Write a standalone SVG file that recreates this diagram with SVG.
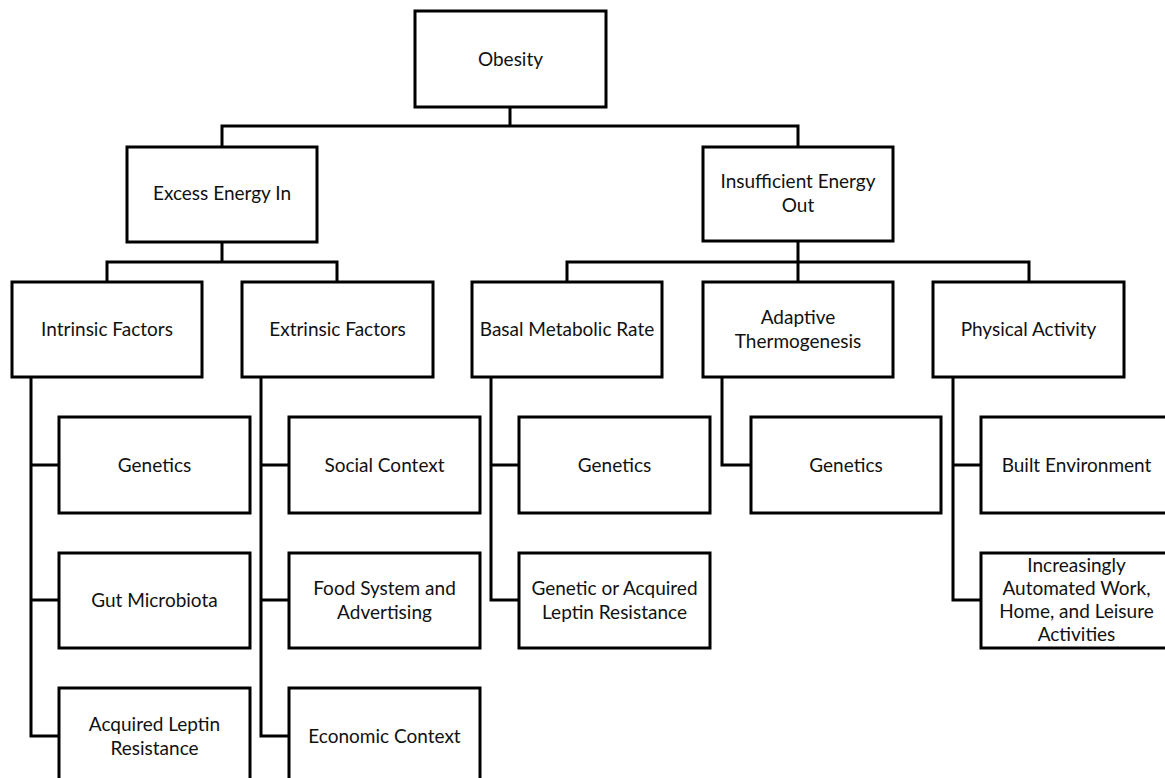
<svg xmlns="http://www.w3.org/2000/svg" width="1165" height="778" viewBox="0 0 1165 778">
<style>
.box{fill:#fff;stroke:#000;stroke-width:3}
.lbl{font-family:Lato,"Liberation Sans",sans-serif;font-size:19px;fill:#111;text-anchor:middle}
.con{fill:none;stroke:#000;stroke-width:3;stroke-linejoin:miter;stroke-linecap:square}
</style>
<rect width="1165" height="778" fill="#fff"/>
<g id="connectors">
<path class="con" d="M510,107V126M222,147V126H798V147"/>
<path class="con" d="M222,242V262M107,282V262H337V282"/>
<path class="con" d="M798,241V282M567,282V262H1029V282"/>
<path class="con" d="M31,377V736H59M31,465H59M31,600H59"/>
<path class="con" d="M261,377V736H289M261,465H289M261,600H289"/>
<path class="con" d="M491,377V600H519M491,465H519"/>
<path class="con" d="M722,377V465H751"/>
<path class="con" d="M953,377V600H981M953,465H981"/>
</g>
<g id="obesity"><rect class="box" x="415" y="11" width="191" height="96"/><text class="lbl" x="510.5" y="66">Obesity</text></g>
<g id="excess"><rect class="box" x="127" y="147" width="190" height="95"/><text class="lbl" x="222" y="200">Excess Energy In</text></g>
<g id="insufficient"><rect class="box" x="703" y="147" width="190" height="94"/><text class="lbl" x="798" y="188">Insufficient Energy<tspan x="798" dy="24">Out</tspan></text></g>
<g id="intrinsic"><rect class="box" x="12" y="282" width="190" height="95"/><text class="lbl" x="107" y="336">Intrinsic Factors</text></g>
<g id="extrinsic"><rect class="box" x="242" y="282" width="191" height="95"/><text class="lbl" x="337.5" y="336">Extrinsic Factors</text></g>
<g id="basal"><rect class="box" x="472" y="282" width="190" height="95"/><text class="lbl" x="567" y="336">Basal Metabolic Rate</text></g>
<g id="adaptive"><rect class="box" x="703" y="282" width="190" height="95"/><text class="lbl" x="798" y="324">Adaptive<tspan x="798" dy="24">Thermogenesis</tspan></text></g>
<g id="physical"><rect class="box" x="933" y="282" width="191" height="95"/><text class="lbl" x="1028.5" y="336">Physical Activity</text></g>
<g id="intr-genetics"><rect class="box" x="59" y="417" width="191" height="96"/><text class="lbl" x="154.5" y="472">Genetics</text></g>
<g id="gut"><rect class="box" x="59" y="553" width="191" height="95"/><text class="lbl" x="154.5" y="607">Gut Microbiota</text></g>
<g id="acq-leptin"><rect class="box" x="59" y="688" width="191" height="96"/><text class="lbl" x="154.5" y="731">Acquired Leptin<tspan x="154.5" dy="24">Resistance</tspan></text></g>
<g id="social"><rect class="box" x="289" y="417" width="191" height="96"/><text class="lbl" x="384.5" y="472">Social Context</text></g>
<g id="food"><rect class="box" x="289" y="553" width="191" height="95"/><text class="lbl" x="384.5" y="595">Food System and<tspan x="384.5" dy="24">Advertising</tspan></text></g>
<g id="economic"><rect class="box" x="289" y="688" width="191" height="96"/><text class="lbl" x="384.5" y="743">Economic Context</text></g>
<g id="bmr-genetics"><rect class="box" x="519" y="417" width="191" height="96"/><text class="lbl" x="614.5" y="472">Genetics</text></g>
<g id="bmr-leptin"><rect class="box" x="519" y="553" width="191" height="95"/><text class="lbl" x="614.5" y="595">Genetic or Acquired<tspan x="614.5" dy="24">Leptin Resistance</tspan></text></g>
<g id="at-genetics"><rect class="box" x="751" y="417" width="190" height="96"/><text class="lbl" x="846" y="472">Genetics</text></g>
<g id="built"><rect class="box" x="981" y="417" width="191" height="96"/><text class="lbl" x="1076.5" y="472">Built Environment</text></g>
<g id="automated"><rect class="box" x="981" y="553" width="191" height="95"/><text class="lbl" x="1076.5" y="572">Increasingly<tspan x="1076.5" dy="23">Automated Work,</tspan><tspan x="1076.5" dy="23">Home, and Leisure</tspan><tspan x="1076.5" dy="23">Activities</tspan></text></g>
</svg>
